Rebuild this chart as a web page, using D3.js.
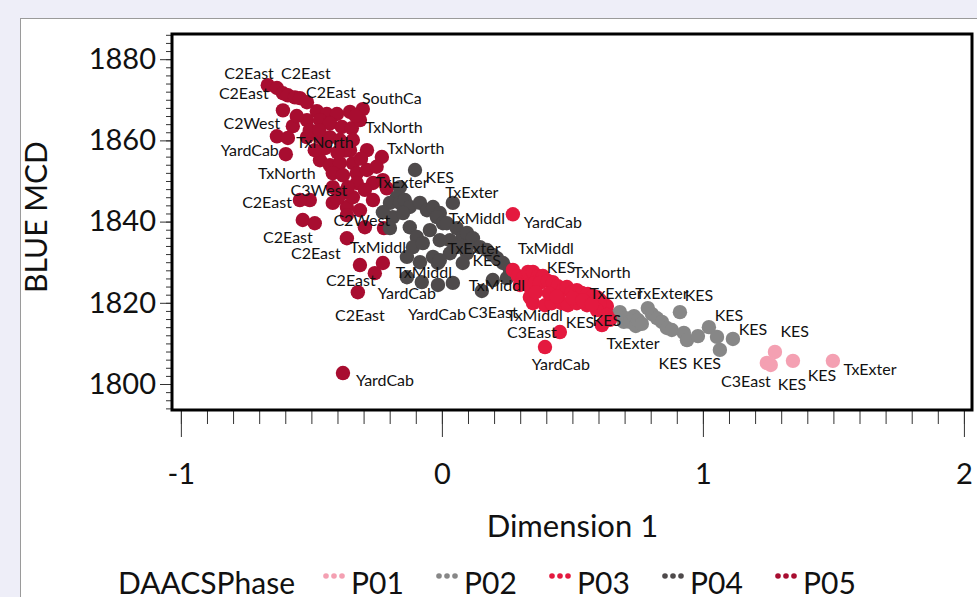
<!DOCTYPE html>
<html>
<head>
<meta charset="utf-8">
<script src="https://cdn.jsdelivr.net/npm/d3@7"></script>
<style>
  html, body { margin: 0; padding: 0; background: #eeeef8; }
  svg { display: block; font-family: Lato, "Open Sans", sans-serif; }
</style>
</head>
<body>
<svg id="chart"></svg>
<script>
// phases, legend order
const phases = ["P01", "P02", "P03", "P04", "P05"];
const phaseColors = ["#f4a0b2", "#878787", "#e4193f", "#4e4a4b", "#a80d30"];

// [Dimension 1, BLUE MCD]
const p01 = [[1.276,1807.9],[1.245,1805.2],[1.26,1804.7],[1.345,1805.7],[1.498,1805.7]];

const p02 = [[0.651,1816.7],[0.682,1817.7],[0.697,1815.3],[0.705,1816.2],[0.72,1815.3],[0.736,1816.7],
  [0.743,1814.3],[0.751,1815.8],[0.766,1814.8],[0.789,1818.7],[0.805,1817.2],[0.824,1816.2],
  [0.843,1815.3],[0.862,1813.8],[0.881,1813.3],[0.912,1817.7],[0.927,1812.6],[0.939,1810.8],
  [0.981,1811.8],[1.023,1814.0],[1.054,1811.6],[1.065,1808.4],[1.115,1811.1]];

const p03 = [[0.272,1841.8],[0.272,1828.1],[0.291,1826.6],[0.31,1826.1],[0.33,1827.6],[0.349,1827.6],
  [0.368,1826.6],[0.387,1826.6],[0.299,1824.4],[0.337,1823.9],[0.356,1824.9],[0.375,1824.9],
  [0.406,1825.4],[0.425,1825.1],[0.444,1824.1],[0.464,1823.1],[0.479,1823.9],[0.498,1822.6],
  [0.517,1823.1],[0.536,1822.4],[0.559,1822.2],[0.579,1821.7],[0.594,1821.4],[0.605,1820.7],
  [0.617,1819.9],[0.632,1819.2],[0.605,1819.7],[0.337,1821.4],[0.349,1819.9],[0.395,1819.4],
  [0.421,1819.9],[0.46,1819.9],[0.483,1819.4],[0.517,1819.9],[0.556,1819.4],[0.594,1818.2],
  [0.632,1817.0],[0.613,1814.5],[0.644,1815.8],[0.452,1812.8],[0.395,1809.1],
  [0.41,1822.3],[0.44,1821.5],[0.5,1821.2],[0.54,1820.6],[0.575,1819.6],[0.36,1822.6]];

const p04 = [[-0.103,1852.7],[-0.161,1848.5],[-0.172,1846.0],[-0.199,1844.6],[-0.161,1844.6],
  [-0.142,1845.3],[-0.123,1843.6],[-0.084,1844.6],[-0.057,1842.8],[-0.034,1843.6],[-0.008,1842.1],
  [0.042,1844.6],[-0.019,1841.1],[0.004,1839.6],[-0.188,1841.1],[-0.149,1842.1],[-0.199,1838.4],
  [-0.123,1838.6],[0.019,1839.6],[0.057,1838.4],[0.08,1836.2],[0.107,1834.7],[0.096,1837.2],
  [0.119,1835.9],[0.146,1833.7],[0.172,1833.0],[0.195,1831.8],[0.211,1831.0],[0.234,1829.8],
  [0.261,1828.1],[-0.096,1836.2],[-0.111,1833.7],[-0.073,1834.7],[0.031,1835.4],[0.057,1833.7],
  [-0.134,1831.3],[-0.084,1830.0],[-0.034,1831.3],[-0.015,1829.8],[0.031,1832.2],[0.096,1832.2],
  [-0.008,1830.5],[0.08,1829.8],[-0.134,1826.3],[-0.077,1825.1],[-0.015,1824.4],[0.042,1824.9],
  [0.153,1822.9],[0.195,1825.6],[0.249,1826.1],[-0.046,1837.9],[-0.008,1835.4],[-0.226,1842.3]];

const p05 = [[-0.667,1873.6],[-0.632,1872.9],[-0.609,1871.6],[-0.59,1871.1],[-0.563,1870.6],
  [-0.544,1870.4],[-0.517,1869.4],[-0.609,1867.4],[-0.479,1867.2],[-0.441,1866.5],[-0.402,1866.5],
  [-0.352,1867.0],[-0.303,1867.7],[-0.571,1863.5],[-0.517,1865.0],[-0.467,1865.0],[-0.429,1864.2],
  [-0.383,1863.3],[-0.345,1863.0],[-0.632,1861.0],[-0.59,1860.6],[-0.598,1856.6],[-0.517,1860.8],
  [-0.467,1860.8],[-0.429,1860.8],[-0.391,1860.1],[-0.341,1860.1],[-0.287,1857.6],[-0.23,1855.9],
  [-0.467,1855.1],[-0.429,1853.9],[-0.391,1854.4],[-0.341,1854.4],[-0.418,1851.9],[-0.379,1851.4],
  [-0.326,1851.9],[-0.287,1852.7],[-0.264,1849.5],[-0.211,1848.2],[-0.418,1848.5],[-0.379,1847.0],
  [-0.326,1849.5],[-0.295,1847.8],[-0.418,1844.6],[-0.364,1843.6],[-0.341,1846.0],[-0.264,1845.3],
  [-0.226,1850.2],[-0.506,1845.3],[-0.544,1845.3],[-0.533,1840.4],[-0.487,1839.6],[-0.364,1835.9],
  [-0.295,1838.6],[-0.222,1838.4],[-0.314,1829.3],[-0.226,1829.8],[-0.257,1827.3],[-0.322,1822.6],
  [-0.379,1802.7],[-0.448,1858.1],[-0.352,1857.6],[-0.487,1857.6],[-0.364,1841.6],[-0.314,1842.8],
  [-0.556,1866.0],[-0.506,1862.5],[-0.314,1865.0],[-0.372,1857.5],
  [-0.40,1857.0],[-0.31,1855.5],[-0.36,1848.5],[-0.40,1845.8],[-0.25,1853.5],[-0.47,1862.5],[-0.33,1866.0]];

// point labels: [text, Dimension 1, BLUE MCD]
const pointLabels = [
  ["C2East",-0.739,1876.6],["C2East",-0.521,1876.6],["C2East",-0.759,1871.6],["C2East",-0.425,1871.9],
  ["SouthCa",-0.192,1870.4],["C2West",-0.728,1864.2],["TxNorth",-0.184,1863.3],["YardCab",-0.736,1857.6],
  ["TxNorth",-0.448,1859.6],["TxNorth",-0.100,1858.1],["TxNorth",-0.594,1851.9],["TxExter",-0.153,1849.7],
  ["KES",-0.008,1851.0],["C3West",-0.471,1847.8],["C2East",-0.670,1844.8],["C2West",-0.307,1840.4],
  ["C2East",-0.590,1836.2],["TxMiddl",-0.245,1833.7],["C2East",-0.483,1832.2],["C2East",-0.349,1825.6],
  ["YardCab",-0.134,1822.4],["C2East",-0.314,1817.0],["YardCab",-0.218,1801.0],["TxMiddl",-0.069,1827.6],
  ["YardCab",-0.019,1817.2],["TxExter",0.115,1847.3],["TxMiddl",0.134,1840.9],["YardCab",0.425,1839.9],
  ["TxExter",0.123,1833.5],["KES",0.172,1830.5],["TxMiddl",0.398,1833.5],["KES",0.456,1828.8],
  ["TxNorth",0.613,1827.6],["TxMiddl",0.211,1824.4],["C3East",0.195,1817.7],["TxMiddl",0.356,1817.0],
  ["C3East",0.345,1812.8],["KES",0.529,1815.3],["KES",0.632,1815.8],["YardCab",0.456,1804.9],
  ["TxExter",0.667,1822.4],["TxExter",0.843,1822.4],["KES",0.985,1821.9],["TxExter",0.732,1810.1],
  ["KES",1.100,1817.0],["KES",1.192,1813.5],["KES",0.885,1805.2],["KES",1.015,1805.2],
  ["KES",1.352,1813.0],["C3East",1.165,1800.7],["KES",1.341,1800.0],["KES",1.456,1802.2],
  ["TxExter",1.640,1803.7]
];

const xTicks = [-1, 0, 1, 2];
const yTicks = [1800, 1820, 1840, 1860, 1880];
const xTitle = "Dimension 1";
const yTitle = "BLUE MCD";
const legendTitle = "DAACSPhase";

const width = 977, height = 597;
const plot = { left: 172, right: 972, top: 34, bottom: 410 };

const svg = d3.select("#chart").attr("width", width).attr("height", height);

// outer panel
svg.append("rect").attr("x", 0).attr("y", 0).attr("width", width).attr("height", height).attr("fill", "#eeeef8");
svg.append("rect").attr("x", 20.5).attr("y", 18.5).attr("width", width).attr("height", height)
  .attr("fill", "#fff").attr("stroke", "#9a9a9a");

const x = d3.scaleLinear().domain([-1.034, 2.031]).range([plot.left, plot.right]);
const y = d3.scaleLinear().domain([1793.6, 1886.2]).range([plot.bottom, plot.top]);

// x axis: major + minor ticks below the frame
const xMinor = d3.range(-10, 21).map(d => d / 10);
svg.append("g").attr("transform", "translate(0," + plot.bottom + ")")
  .call(d3.axisBottom(x).tickValues(xMinor).tickSize(14).tickFormat(""))
  .call(g => g.select(".domain").remove())
  .call(g => g.selectAll("line").attr("stroke", "#333"));
const xAxis = svg.append("g").attr("transform", "translate(0," + plot.bottom + ")")
  .call(d3.axisBottom(x).tickValues(xTicks).tickSize(27).tickPadding(26).tickFormat(d => String(d)))
  .call(g => g.select(".domain").remove());
xAxis.selectAll("line").attr("stroke", "#333");
xAxis.selectAll("text").attr("font-size", 29).attr("font-family", "Lato").attr("fill", "#111");

// y axis
const yMinor = d3.range(1794, 1887, 2);
svg.append("g").attr("transform", "translate(" + plot.left + ",0)")
  .call(d3.axisLeft(y).tickValues(yMinor).tickSize(6).tickFormat(""))
  .call(g => g.select(".domain").remove())
  .call(g => g.selectAll("line").attr("stroke", "#333"));
const yAxis = svg.append("g").attr("transform", "translate(" + plot.left + ",0)")
  .call(d3.axisLeft(y).tickValues(yTicks).tickSize(12).tickPadding(4).tickFormat(d => String(d)))
  .call(g => g.select(".domain").remove());
yAxis.selectAll("line").attr("stroke", "#333");
yAxis.selectAll("text").attr("font-size", 29).attr("font-family", "Lato").attr("fill", "#111");

// clip for marks
svg.append("clipPath").attr("id", "plotclip").append("rect")
  .attr("x", plot.left).attr("y", plot.top)
  .attr("width", plot.right - plot.left).attr("height", plot.bottom - plot.top);

const marks = svg.append("g").attr("clip-path", "url(#plotclip)");
const series = [p05, p04, p02, p03, p01];
const seriesColor = [4, 3, 1, 2, 0].map(i => phaseColors[i]);

series.forEach((pts, i) => {
  marks.append("g")
    .selectAll("circle")
    .data(pts)
    .join("circle")
    .attr("cx", d => x(d[0]))
    .attr("cy", d => y(d[1]))
    .attr("r", 7.2)
    .attr("fill", seriesColor[i]);
});

marks.append("g")
  .selectAll("text")
  .data(pointLabels)
  .join("text")
  .attr("x", d => x(d[1]))
  .attr("y", d => y(d[2]))
  .attr("text-anchor", "middle")
  .attr("dy", "0.36em")
  .attr("font-size", 16)
  .attr("fill", "#111")
  .text(d => d[0]);

// frame
svg.append("rect")
  .attr("x", plot.left).attr("y", plot.top)
  .attr("width", plot.right - plot.left).attr("height", plot.bottom - plot.top)
  .attr("fill", "none").attr("stroke", "#000").attr("stroke-width", 3);

// titles
svg.append("text")
  .attr("x", x(0.5)).attr("y", 537)
  .attr("text-anchor", "middle").attr("font-size", 31).attr("fill", "#111")
  .text(xTitle);
svg.append("text")
  .attr("transform", "translate(47,217) rotate(-90)")
  .attr("text-anchor", "middle").attr("font-size", 30).attr("fill", "#111")
  .text(yTitle);

// legend
const legend = svg.append("g").attr("transform", "translate(118,594)");
legend.append("text").attr("x", 0).attr("y", 0).attr("font-size", 30).attr("fill", "#111").text(legendTitle);
const item = legend.selectAll("g.item")
  .data(phases)
  .join("g")
  .attr("class", "item")
  .attr("transform", (d, i) => "translate(" + (208 + i * 113) + ",0)");
item.each(function(d, i) {
  const g = d3.select(this);
  [0, 1, 2].forEach(k => {
    g.append("circle").attr("cx", k * 8).attr("cy", -18).attr("r", 2.8).attr("fill", phaseColors[i]);
  });
  g.append("text").attr("x", 25).attr("y", 0).attr("font-size", 30).attr("fill", "#111").text(d);
});
</script>
</body>
</html>
